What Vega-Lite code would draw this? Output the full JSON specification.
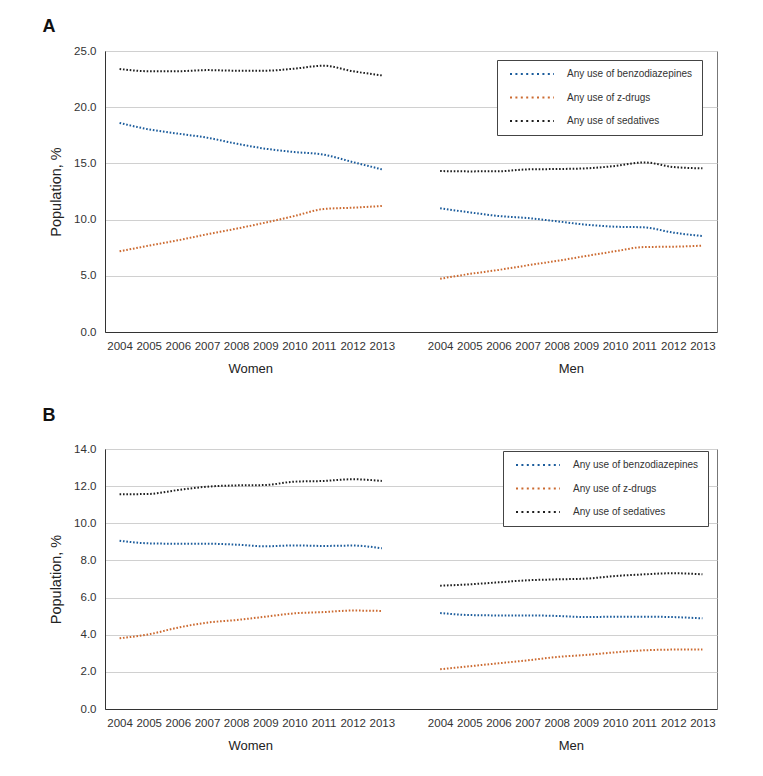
{
  "$schema": "https://vega.github.io/schema/vega-lite/v6.json",
  "padding": {"left": 42, "top": 17, "right": 5, "bottom": 5},
  "spacing": 30,
  "resolve": {"scale": {"color": "independent"}, "legend": {"color": "independent"}},
  "config": {
    "font": "Liberation Sans",
    "view": {"stroke": "#777", "strokeWidth": 1},
    "axis": {"labelColor": "#333", "labelFontSize": 11.5, "titleColor": "#222", "ticks": false, "gridColor": "#d0d0d0", "domainColor": "#333"},
    "title": {"fontSize": 18, "fontWeight": "bold", "color": "#111", "anchor": "start"}
  },
  "datasets": {
    "a": [
      {"sex": "Women", "key": "W2004", "Any use of benzodiazepines": 18.6, "Any use of z-drugs": 7.18, "Any use of sedatives": 23.4},
      {"sex": "Women", "key": "W2005", "Any use of benzodiazepines": 18.03, "Any use of z-drugs": 7.68, "Any use of sedatives": 23.2},
      {"sex": "Women", "key": "W2006", "Any use of benzodiazepines": 17.65, "Any use of z-drugs": 8.16, "Any use of sedatives": 23.2},
      {"sex": "Women", "key": "W2007", "Any use of benzodiazepines": 17.29, "Any use of z-drugs": 8.69, "Any use of sedatives": 23.3},
      {"sex": "Women", "key": "W2008", "Any use of benzodiazepines": 16.76, "Any use of z-drugs": 9.19, "Any use of sedatives": 23.25},
      {"sex": "Women", "key": "W2009", "Any use of benzodiazepines": 16.31, "Any use of z-drugs": 9.73, "Any use of sedatives": 23.25},
      {"sex": "Women", "key": "W2010", "Any use of benzodiazepines": 16.01, "Any use of z-drugs": 10.32, "Any use of sedatives": 23.43},
      {"sex": "Women", "key": "W2011", "Any use of benzodiazepines": 15.78, "Any use of z-drugs": 10.94, "Any use of sedatives": 23.69},
      {"sex": "Women", "key": "W2012", "Any use of benzodiazepines": 15.12, "Any use of z-drugs": 11.06, "Any use of sedatives": 23.2},
      {"sex": "Women", "key": "W2013", "Any use of benzodiazepines": 14.47, "Any use of z-drugs": 11.21, "Any use of sedatives": 22.83},
      {"sex": "Men", "key": "M2004", "Any use of benzodiazepines": 11.0, "Any use of z-drugs": 4.74, "Any use of sedatives": 14.32},
      {"sex": "Men", "key": "M2005", "Any use of benzodiazepines": 10.65, "Any use of z-drugs": 5.16, "Any use of sedatives": 14.29},
      {"sex": "Men", "key": "M2006", "Any use of benzodiazepines": 10.32, "Any use of z-drugs": 5.52, "Any use of sedatives": 14.3},
      {"sex": "Men", "key": "M2007", "Any use of benzodiazepines": 10.14, "Any use of z-drugs": 5.93, "Any use of sedatives": 14.47},
      {"sex": "Men", "key": "M2008", "Any use of benzodiazepines": 9.85, "Any use of z-drugs": 6.32, "Any use of sedatives": 14.5},
      {"sex": "Men", "key": "M2009", "Any use of benzodiazepines": 9.55, "Any use of z-drugs": 6.76, "Any use of sedatives": 14.56},
      {"sex": "Men", "key": "M2010", "Any use of benzodiazepines": 9.37, "Any use of z-drugs": 7.18, "Any use of sedatives": 14.77},
      {"sex": "Men", "key": "M2011", "Any use of benzodiazepines": 9.31, "Any use of z-drugs": 7.56, "Any use of sedatives": 15.09},
      {"sex": "Men", "key": "M2012", "Any use of benzodiazepines": 8.84, "Any use of z-drugs": 7.59, "Any use of sedatives": 14.68},
      {"sex": "Men", "key": "M2013", "Any use of benzodiazepines": 8.54, "Any use of z-drugs": 7.68, "Any use of sedatives": 14.56}
    ],
    "b": [
      {"sex": "Women", "key": "W2004", "Any use of benzodiazepines": 9.06, "Any use of z-drugs": 3.81, "Any use of sedatives": 11.56},
      {"sex": "Women", "key": "W2005", "Any use of benzodiazepines": 8.92, "Any use of z-drugs": 4.02, "Any use of sedatives": 11.58},
      {"sex": "Women", "key": "W2006", "Any use of benzodiazepines": 8.9, "Any use of z-drugs": 4.38, "Any use of sedatives": 11.79},
      {"sex": "Women", "key": "W2007", "Any use of benzodiazepines": 8.9, "Any use of z-drugs": 4.65, "Any use of sedatives": 11.97},
      {"sex": "Women", "key": "W2008", "Any use of benzodiazepines": 8.85, "Any use of z-drugs": 4.79, "Any use of sedatives": 12.04},
      {"sex": "Women", "key": "W2009", "Any use of benzodiazepines": 8.76, "Any use of z-drugs": 4.97, "Any use of sedatives": 12.06},
      {"sex": "Women", "key": "W2010", "Any use of benzodiazepines": 8.81, "Any use of z-drugs": 5.15, "Any use of sedatives": 12.24},
      {"sex": "Women", "key": "W2011", "Any use of benzodiazepines": 8.78, "Any use of z-drugs": 5.22, "Any use of sedatives": 12.28},
      {"sex": "Women", "key": "W2012", "Any use of benzodiazepines": 8.8, "Any use of z-drugs": 5.3, "Any use of sedatives": 12.37},
      {"sex": "Women", "key": "W2013", "Any use of benzodiazepines": 8.65, "Any use of z-drugs": 5.28, "Any use of sedatives": 12.28},
      {"sex": "Men", "key": "M2004", "Any use of benzodiazepines": 5.17, "Any use of z-drugs": 2.14, "Any use of sedatives": 6.64},
      {"sex": "Men", "key": "M2005", "Any use of benzodiazepines": 5.06, "Any use of z-drugs": 2.3, "Any use of sedatives": 6.71},
      {"sex": "Men", "key": "M2006", "Any use of benzodiazepines": 5.04, "Any use of z-drugs": 2.46, "Any use of sedatives": 6.82},
      {"sex": "Men", "key": "M2007", "Any use of benzodiazepines": 5.04, "Any use of z-drugs": 2.62, "Any use of sedatives": 6.93},
      {"sex": "Men", "key": "M2008", "Any use of benzodiazepines": 5.01, "Any use of z-drugs": 2.8, "Any use of sedatives": 6.98},
      {"sex": "Men", "key": "M2009", "Any use of benzodiazepines": 4.95, "Any use of z-drugs": 2.91, "Any use of sedatives": 7.02},
      {"sex": "Men", "key": "M2010", "Any use of benzodiazepines": 4.97, "Any use of z-drugs": 3.05, "Any use of sedatives": 7.16},
      {"sex": "Men", "key": "M2011", "Any use of benzodiazepines": 4.97, "Any use of z-drugs": 3.16, "Any use of sedatives": 7.25},
      {"sex": "Men", "key": "M2012", "Any use of benzodiazepines": 4.95, "Any use of z-drugs": 3.2, "Any use of sedatives": 7.31},
      {"sex": "Men", "key": "M2013", "Any use of benzodiazepines": 4.88, "Any use of z-drugs": 3.21, "Any use of sedatives": 7.25}
    ]
  },
  "vconcat": [
    {
      "title": {"text": "A", "dx": -6, "offset": 9},
      "width": 612,
      "height": 281,
      "data": {"name": "a"},
      "transform": [{"fold": ["Any use of benzodiazepines", "Any use of z-drugs", "Any use of sedatives"], "as": ["drug", "pct"]}],
      "layer": [
        {
          "mark": {"type": "line", "strokeDash": [1.6, 1.8], "strokeWidth": 2, "interpolate": "monotone"},
          "encoding": {
            "x": {"field": "key", "type": "ordinal",
              "scale": {"type": "point", "padding": 0.5, "domain": ["W2004","W2005","W2006","W2007","W2008","W2009","W2010","W2011","W2012","W2013","gap","M2004","M2005","M2006","M2007","M2008","M2009","M2010","M2011","M2012","M2013"]},
              "axis": {"title": null, "labelAngle": 0, "grid": false, "domainColor": "#333", "labelPadding": 8, "labelExpr": "datum.value == 'gap' ? '' : substring(datum.value, 1)"}},
            "y": {"field": "pct", "type": "quantitative",
              "scale": {"domain": [0, 25]},
              "axis": {"title": "Population, %", "titleFontSize": 14.5, "titleFontWeight": "normal", "titlePadding": 10, "values": [0, 5, 10, 15, 20, 25], "format": ".1f", "labelPadding": 9}},
            "color": {"field": "drug", "type": "nominal",
              "scale": {"domain": ["Any use of benzodiazepines", "Any use of z-drugs", "Any use of sedatives"], "range": ["#1b5c9c", "#cc6a30", "#1e1e1e"]},
              "legend": {"title": null, "orient": "none", "legendX": 392, "legendY": 9, "direction": "vertical", "strokeColor": "#444", "fillColor": "white", "padding": 9, "labelFontSize": 10, "labelColor": "#333", "labelOffset": 51, "symbolType": "M-0.33,0H14.33", "symbolStrokeWidth": 2, "symbolDash": [2, 3.4], "symbolSize": 36, "rowPadding": 13.5}},
            "detail": {"field": "sex"}
          }
        },
        {
          "mark": {"type": "point", "opacity": 0},
          "encoding": {
            "x": {"field": "sex", "type": "nominal",
              "scale": {"type": "band", "domain": ["Women", "Men"], "paddingInner": 0.0909, "paddingOuter": 0},
              "axis": {"orient": "bottom", "title": null, "domain": false, "grid": false, "labelAngle": 0, "labelFontSize": 13, "labelColor": "#222", "labelPadding": 30}}
          }
        }
      ],
      "resolve": {"scale": {"x": "independent"}, "axis": {"x": "independent"}}
    },
    {
      "title": {"text": "B", "dx": -6, "offset": 18},
      "width": 612,
      "height": 260,
      "data": {"name": "b"},
      "transform": [{"fold": ["Any use of benzodiazepines", "Any use of z-drugs", "Any use of sedatives"], "as": ["drug", "pct"]}],
      "layer": [
        {
          "mark": {"type": "line", "strokeDash": [1.6, 1.8], "strokeWidth": 2, "interpolate": "monotone"},
          "encoding": {
            "x": {"field": "key", "type": "ordinal",
              "scale": {"type": "point", "padding": 0.5, "domain": ["W2004","W2005","W2006","W2007","W2008","W2009","W2010","W2011","W2012","W2013","gap","M2004","M2005","M2006","M2007","M2008","M2009","M2010","M2011","M2012","M2013"]},
              "axis": {"title": null, "labelAngle": 0, "grid": false, "domainColor": "#333", "labelPadding": 8, "labelExpr": "datum.value == 'gap' ? '' : substring(datum.value, 1)"}},
            "y": {"field": "pct", "type": "quantitative",
              "scale": {"domain": [0, 14]},
              "axis": {"title": "Population, %", "titleFontSize": 14.5, "titleFontWeight": "normal", "titlePadding": 10, "values": [0, 2, 4, 6, 8, 10, 12, 14], "format": ".1f", "labelPadding": 9}},
            "color": {"field": "drug", "type": "nominal",
              "scale": {"domain": ["Any use of benzodiazepines", "Any use of z-drugs", "Any use of sedatives"], "range": ["#1b5c9c", "#cc6a30", "#1e1e1e"]},
              "legend": {"title": null, "orient": "none", "legendX": 398, "legendY": 2, "direction": "vertical", "strokeColor": "#444", "fillColor": "white", "padding": 9, "labelFontSize": 10, "labelColor": "#333", "labelOffset": 51, "symbolType": "M-0.33,0H14.33", "symbolStrokeWidth": 2, "symbolDash": [2, 3.4], "symbolSize": 36, "rowPadding": 13.5}},
            "detail": {"field": "sex"}
          }
        },
        {
          "mark": {"type": "point", "opacity": 0},
          "encoding": {
            "x": {"field": "sex", "type": "nominal",
              "scale": {"type": "band", "domain": ["Women", "Men"], "paddingInner": 0.0909, "paddingOuter": 0},
              "axis": {"orient": "bottom", "title": null, "domain": false, "grid": false, "labelAngle": 0, "labelFontSize": 13, "labelColor": "#222", "labelPadding": 30}}
          }
        }
      ],
      "resolve": {"scale": {"x": "independent"}, "axis": {"x": "independent"}}
    }
  ]
}
